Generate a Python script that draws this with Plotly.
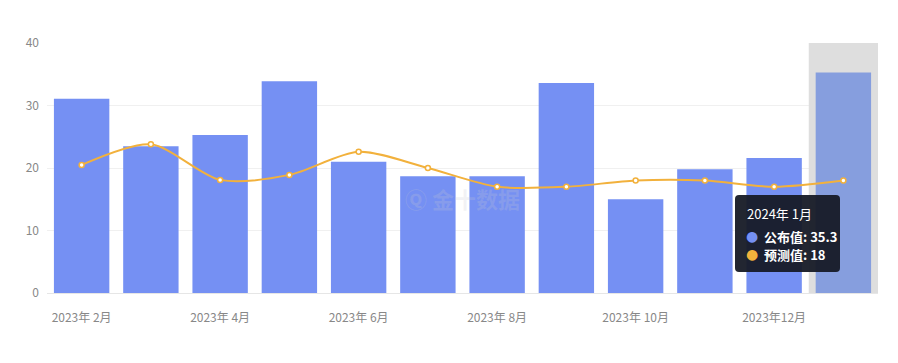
import plotly.graph_objects as go

months = ["2023年 2月", "2023年 3月", "2023年 4月", "2023年 5月", "2023年 6月", "2023年 7月",
          "2023年 8月", "2023年 9月", "2023年 10月", "2023年11月", "2023年12月", "2024年 1月"]
actual = [31.1, 23.5, 25.3, 33.9, 21.0, 18.7, 18.7, 33.6, 15.0, 19.8, 21.6, 35.3]
forecast = [20.5, 23.8, 18.1, 18.9, 22.6, 20.0, 17.0, 17.0, 18.0, 18.0, 17.0, 18.0]
tick_labels = ["2023年 2月", "2023年 4月", "2023年 6月", "2023年 8月", "2023年 10月", "2023年12月"]

BAR = "#7590f3"
LINE = "#f2b13c"
bar_colors = [BAR] * (len(months) - 1) + ["#869ede"]

# page body has a default 8px margin; compensate so the plot area lands at x 47..878, y 43..293
OFF = 8
PL, PR, PT, PB = 47, 878, 43, 293
W, H = 898 - 2 * OFF, 363 - 2 * OFF
L, T = PL - OFF, PT - OFF
R = W - (PR - OFF)
B = H - (PB - OFF)
PW, PH = PR - PL, PB - PT


def px(x):
    return (x - PL) / PW


def py(y):
    return (PB - y) / PH


def rounded_rect(x0, y0, x1, y1, r):
    # path in paper coords (pixels converted), y0 top, y1 bottom in screen pixels
    pts = []
    X = lambda v: px(v)
    Y = lambda v: py(v)
    return (f"M {X(x0 + r)},{Y(y0)} L {X(x1 - r)},{Y(y0)} Q {X(x1)},{Y(y0)} {X(x1)},{Y(y0 + r)} "
            f"L {X(x1)},{Y(y1 - r)} Q {X(x1)},{Y(y1)} {X(x1 - r)},{Y(y1)} "
            f"L {X(x0 + r)},{Y(y1)} Q {X(x0)},{Y(y1)} {X(x0)},{Y(y1 - r)} "
            f"L {X(x0)},{Y(y0 + r)} Q {X(x0)},{Y(y0)} {X(x0 + r)},{Y(y0)} Z")


fig = go.Figure()
fig.add_trace(go.Bar(x=months, y=actual, name="公布值", marker=dict(color=bar_colors, line=dict(width=0))))
fig.add_trace(go.Scatter(x=months, y=forecast, name="预测值", mode="lines+markers",
                         line=dict(color=LINE, width=2, shape="spline", smoothing=0.8),
                         marker=dict(size=5, color="#ffffff", line=dict(color=LINE, width=1.5))))

# highlighted (hovered) category shadow
fig.add_shape(type="rect", xref="x", yref="y", x0=10.5, x1=11.5, y0=0, y1=40,
              fillcolor="#dedede", line=dict(width=0), layer="between")

# watermark
fig.add_annotation(x=px(462), y=py(198), xref="paper", yref="paper", text="<b>Ⓠ 金十数据</b>", showarrow=False,
                   font=dict(size=22, color="rgba(200,200,210,0.22)", family="Noto Sans CJK SC"))

# tooltip box
fig.add_shape(type="path", xref="paper", yref="paper", path=rounded_rect(735, 195, 840, 272, 4),
              fillcolor="rgba(22,26,38,0.95)", line=dict(width=0), layer="above")
fig.add_annotation(x=px(745), y=py(214), xref="paper", yref="paper", text="2024年 1月", showarrow=False,
                   xanchor="left", yanchor="middle", font=dict(size=13, color="#ffffff", family="Noto Sans CJK SC"))
for label, val, col, yy in [("公布值", "35.3", BAR, 236), ("预测值", "18", LINE, 254)]:
    fig.add_annotation(x=px(744), y=py(yy), xref="paper", yref="paper",
                       text=f"<span style='color:{col}'>●</span>",
                       showarrow=False, xanchor="left", yanchor="middle",
                       font=dict(size=14, color=col, family="DejaVu Sans"))
    fig.add_annotation(x=px(762), y=py(yy), xref="paper", yref="paper",
                       text=f"<b>{label}: {val}</b>",
                       showarrow=False, xanchor="left", yanchor="middle",
                       font=dict(size=13, color="#ffffff", family="Noto Sans CJK SC"))

fig.update_layout(
    width=W, height=H,
    margin=dict(l=L, r=R, t=T, b=B, pad=0),
    plot_bgcolor="#ffffff", paper_bgcolor="#ffffff",
    showlegend=False, bargap=0.2,
    font=dict(family="Noto Sans CJK SC", size=12, color="#888888"),
)
fig.update_xaxes(type="category", range=[-0.5, len(months) - 0.5], tickmode="array",
                 tickvals=tick_labels, ticktext=tick_labels,
                 showgrid=False, showline=True, linecolor="#e6e6e6", ticks="", automargin=False,
                 ticklabelstandoff=14, tickfont=dict(size=12, color="#888888"))
fig.update_yaxes(range=[0, 40], dtick=10, showgrid=True, gridcolor="#f0f0f0", zeroline=False,
                 showline=False, ticks="", automargin=False, ticklabelstandoff=7,
                 tickfont=dict(size=12, color="#888888"))

fig.write_html("out.html")
